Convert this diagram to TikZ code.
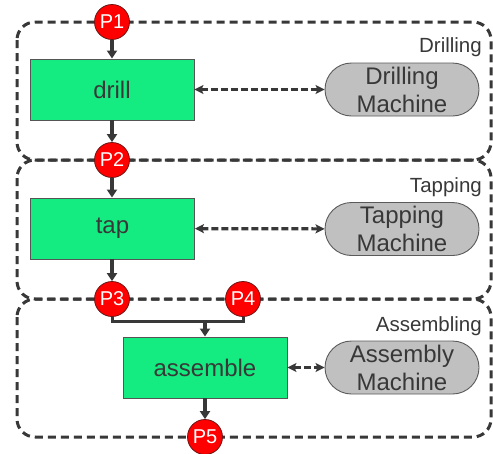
\documentclass[tikz,border=0pt]{standalone}
\usepackage{fontspec}
\setmainfont{Liberation Sans}
\usetikzlibrary{arrows.meta,shapes.misc}

\definecolor{inkgray}{RGB}{56,56,56}
\definecolor{procgreen}{RGB}{20,235,128}
\definecolor{machgray}{RGB}{192,192,192}
\definecolor{placered}{RGB}{255,0,0}

\tikzset{
  container/.style={draw=inkgray, line width=3pt, dash pattern=on 8pt off 5pt, rounded corners=18pt},
  stagelabel/.style={anchor=base east, inner sep=0pt, text=inkgray, font=\fontsize{20.5}{23}\selectfont},
  place/.style={circle, draw={rgb,255:red,110;green,20;blue,20}, line width=0.8pt, fill=placered,
    minimum size=35pt, inner sep=0pt, text=white, font=\fontsize{20}{22}\selectfont},
  proc/.style={rectangle, draw={rgb,255:red,85;green,85;blue,85}, line width=0.9pt, fill=procgreen,
    minimum width=164pt, minimum height=61pt, inner sep=0pt, text=inkgray, font=\fontsize{24}{27}\selectfont},
  machine/.style={rounded rectangle, draw={rgb,255:red,90;green,90;blue,90}, line width=0.9pt, fill=machgray,
    minimum width=154pt, minimum height=53pt, inner sep=0pt, align=center, text=inkgray,
    font=\fontsize{24}{28}\selectfont},
  flow/.style={draw=inkgray, line width=3.2pt, -{Triangle[length=8pt,width=10pt]}},
  joinline/.style={draw=inkgray, line width=3pt},
  link/.style={draw=inkgray, line width=3.2pt, dash pattern=on 7pt off 3pt,
    {Stealth[length=9pt,width=9pt,inset=2pt]}-{Stealth[length=9pt,width=9pt,inset=2pt]}},
}

\begin{document}
\begin{tikzpicture}[x=1pt,y=-1pt]
\useasboundingbox (0,0) rectangle (493,453);

% stage containers
\draw[container] (17,22) rectangle (491,160);
\draw[container] (17,160) rectangle (491,299);
\draw[container] (17,299) rectangle (491,437);

\node[stagelabel] (ldrill) at (482,52) {Drilling};
\node[stagelabel] (ltap) at (482,192) {Tapping};
\node[stagelabel] (lasm) at (482,331) {Assembling};

% processes and resources
\node[proc] (drill) at (112,89.5) {drill};
\node[proc] (tap) at (112.5,228.5) {tap};
\node[proc] (asm) at (205,367.5) {assemble};

\node[machine] (dm) at (402,89.5) {Drilling\\Machine};
\node[machine] (tm) at (402,229) {Tapping\\Machine};
\node[machine] (am) at (402,367.5) {Assembly\\Machine};

% places
\node[place] (p1) at (112,22) {P1};
\node[place] (p2) at (112,160) {P2};
\node[place] (p3) at (112,299) {P3};
\node[place] (p4) at (243,299) {P4};
\node[place] (p5) at (205,437) {P5};

\coordinate (j) at (205,321);

% flow of parts
\draw[flow] (p1) -- (drill);
\draw[flow] (drill) -- (p2);
\draw[flow] (p2) -- (p2 |- tap.north);
\draw[flow] (p3 |- tap.south) -- (p3);
\draw[joinline] (p3) |- (j) -| (p4);
\draw[flow] (j) -- (asm);
\draw[flow] (asm) -- (p5);

% resource links
\draw[link] (drill) -- (dm);
\draw[link] (tap) -- (tm);
\draw[link] (asm) -- (am);
\end{tikzpicture}
\end{document}
